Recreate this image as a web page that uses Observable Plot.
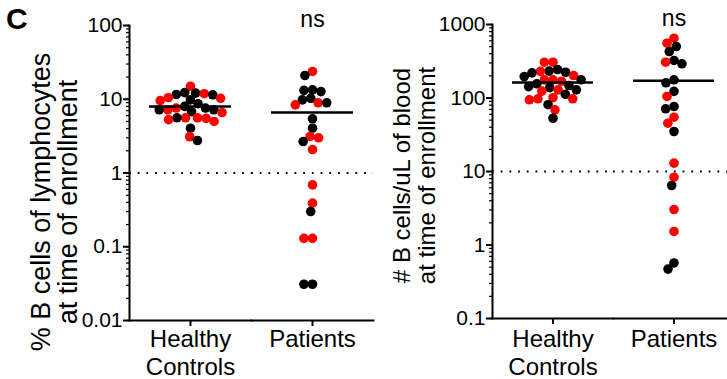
<!DOCTYPE html>
<html><head><meta charset="utf-8">
<script src="https://cdn.jsdelivr.net/npm/d3@7"></script>
<script src="https://cdn.jsdelivr.net/npm/@observablehq/plot@0.6"></script>
<style>
html,body{margin:0;padding:0;background:#fff;overflow:hidden;}
#wrap{position:relative;width:727px;height:379px;overflow:hidden;font-family:"Liberation Sans",Arial,sans-serif;}
#panel{position:absolute;left:6px;top:4px;font-weight:bold;font-size:30px;line-height:30px;}
#left{position:absolute;left:0;top:0;width:375px;}
#right{position:absolute;left:375px;top:0;width:360px;}
#wrap svg{max-width:none !important;}
</style></head><body>
<div id="wrap"><div id="left"></div><div id="right"></div><div id="panel">C</div></div>
<script>
const groups = ["Healthy Controls", "Patients"];
const groupLabels = ["Healthy\nControls", "Patients"];
const cohorts = ["red", "black"];
const cohortColors = ["#e9412c", "#000000"];

// % B cells of lymphocytes
const pctHealthyRed = [15.0, 10.5, 10.3, 11.9, 7.2, 6.6, 7.6, 9.6, 5.6, 5.5, 5.0, 5.3, 5.6, 3.1];
const pctHealthyBlack = [12.1, 11.6, 11.5, 12.3, 9.8, 8.7, 7.6, 7.2, 6.8, 7.2, 8.0, 5.6, 4.05, 2.76];
const pctPatientRed = [23.8, 8.95, 8.4, 3.0, 3.13, 2.08, 0.69, 0.39, 0.13, 0.13];
const pctPatientBlack = [21.0, 13.2, 12.7, 13.4, 10.3, 9.8, 8.95, 5.43, 4.05, 2.67, 0.30, 0.031, 0.031];
const pctTicks = [0.01, 0.1, 1, 10, 100];
const pctTickLabels = ["0.01", "0.1", "1", "10", "100"];
const pctThreshold = 1;

// # B cells / uL of blood
const cntHealthyRed = [307, 307, 202, 230, 177, 124, 129, 169, 177, 97.5, 94.5, 101, 97.5, 69];
const cntHealthyBlack = [232, 224, 196, 220, 244, 177, 156, 143, 129, 138, 148, 112, 81, 53];
const cntPatientRed = [651, 557, 307, 105, 54.8, 45.4, 13.0, 8.36, 3.04, 1.53];
const cntPatientBlack = [429, 502, 292, 324, 161, 177, 123, 76.6, 71.3, 35, 6.45, 0.57, 0.47];
const cntTicks = [0.1, 1, 10, 100, 1000];
const cntTickLabels = ["0.1", "1", "10", "100", "1000"];
const cntThreshold = 10;

const sigGroups = ["Patients"];
const sigLabels = ["ns"];

function rows(hr, hb, pr, pb) {
  const out = [];
  const add = (arr, g, c) => arr.forEach(v => out.push({group: g, cohort: c, value: v}));
  add(hr, groups[0], cohorts[0]); add(hb, groups[0], cohorts[1]);
  add(pr, groups[1], cohorts[0]); add(pb, groups[1], cohorts[1]);
  return out.sort((a, b) => b.value - a.value);
}

function panel(o) {
  const minor = d3.scaleLog().domain(o.domain).ticks();
  return Plot.plot({
    width: o.width, height: 379,
    marginLeft: o.marginLeft, marginRight: o.marginRight, marginTop: o.marginTop, marginBottom: o.marginBottom,
    style: {fontFamily: "'Liberation Sans', Arial, sans-serif", background: "transparent", color: "#000", overflow: "visible", maxWidth: "none"},
    fx: {domain: groups, padding: 0, label: null},
    y: {type: "log", domain: o.domain, label: null},
    color: {domain: cohorts, range: cohortColors},
    marks: [
      Plot.ruleY([o.threshold], {stroke: "#000", strokeWidth: 2, strokeDasharray: "1.8,6.9"}),
      Plot.dot(o.data, Plot.dodgeX({anchor: "middle", padding: -1, r: 4.8, y: "value", fx: "group", fill: "cohort"})),
      Plot.tickY(o.data, Plot.groupZ({y: "mean"}, {y: "value", fx: "group", strokeWidth: 2.5, insetLeft: 20, insetRight: 20})),
      Plot.axisY({ticks: minor, tickSize: 3, tickFormat: () => "", strokeWidth: 1.2, label: null}),
      Plot.axisY({ticks: o.ticks, tickSize: 6, tickPadding: 1, tickFormat: d => o.tickLabels[o.ticks.indexOf(d)], fontSize: 21, strokeWidth: 2, label: null}),
      Plot.frame({anchor: "left", facetAnchor: "left", strokeWidth: 2}),
      Plot.frame({anchor: "bottom", strokeWidth: 2}),
      Plot.axisFx({anchor: "bottom", tickSize: 6, tickPadding: o.fxPad, fontSize: 24, lineHeight: 1.15, tickFormat: d => groupLabels[groups.indexOf(d)], strokeWidth: 2, label: null}),
      Plot.text(sigLabels, {fx: sigGroups, text: d => d, frameAnchor: "top", dy: -15, fontSize: 23}),
      Plot.text([o.title], {text: d => d, frameAnchor: "left", facetAnchor: "left", rotate: -90, dx: o.titleDx, dy: o.titleDy, fontSize: o.titleSize, lineHeight: o.titleLH, textAnchor: "middle", lineAnchor: "middle"})
    ]
  });
}

document.getElementById("left").append(panel({
  data: rows(pctHealthyRed, pctHealthyBlack, pctPatientRed, pctPatientBlack),
  domain: [0.01, 100], ticks: pctTicks, tickLabels: pctTickLabels, threshold: pctThreshold,
  width: 375, marginLeft: 128, marginRight: 2, marginTop: 25, marginBottom: 59, fxPad: 1,
  title: "% B cells of lymphocytes\nat time of enrollment", titleSize: 27, titleLH: 1.0, titleDx: -74.5, titleDy: 29
}));
document.getElementById("right").append(panel({
  data: rows(cntHealthyRed, cntHealthyBlack, cntPatientRed, cntPatientBlack),
  domain: [0.1, 1000], ticks: cntTicks, tickLabels: cntTickLabels, threshold: cntThreshold,
  width: 360, marginLeft: 117, marginRight: 1, marginTop: 24, marginBottom: 61, fxPad: 3,
  title: "# B cells/uL of blood\nat time of enrollment", titleSize: 24, titleLH: 1.05, titleDx: -77.8, titleDy: 4
}));
</script>
</body></html>
